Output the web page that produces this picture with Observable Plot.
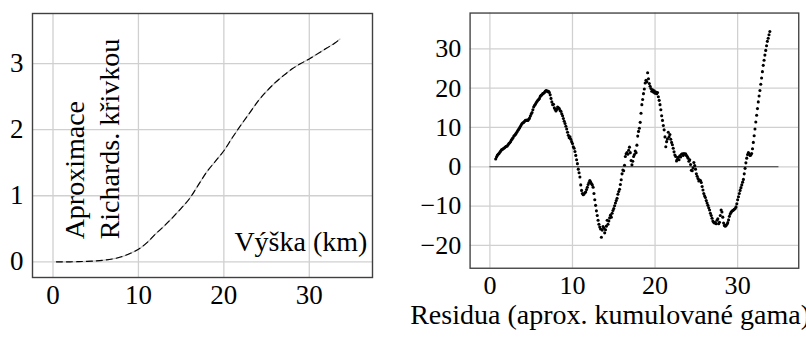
<!DOCTYPE html>
<html><head><meta charset="utf-8">
<script src="https://cdn.jsdelivr.net/npm/d3@7"></script>
<script src="https://cdn.jsdelivr.net/npm/@observablehq/plot@0.6"></script>
<style>
html,body{margin:0;padding:0;background:#fff;overflow:hidden;}
#wrap{position:relative;width:806px;height:341px;overflow:hidden;}
#left{position:absolute;left:0;top:0;}
#right{position:absolute;left:400px;top:0;}
</style></head><body><div id="wrap"><div id="left"></div><div id="right"></div></div>
<script>
// ---- data ----
const xTicks = [0, 10, 20, 30];
const leftYTicks = [0, 1, 2, 3];
const rightYTicks = [-20, -10, 0, 10, 20, 30];

// left panel: cumulative curve vs height (km)
const curveX = [0.4, 2, 3, 4, 5, 6, 7, 8, 9, 10, 11, 12, 13, 14, 15, 16, 17, 18, 19, 20, 21, 22, 23, 24, 25, 26, 27, 28, 29, 30, 31, 32, 33, 33.6];
const curveY = [0.0, 0.0, 0.003, 0.007, 0.014, 0.026, 0.045, 0.076, 0.125, 0.19, 0.29, 0.42, 0.54, 0.67, 0.81, 0.96, 1.16, 1.36, 1.52, 1.68, 1.88, 2.07, 2.25, 2.43, 2.58, 2.71, 2.82, 2.92, 3.0, 3.07, 3.15, 3.23, 3.31, 3.37];

// right panel: residuals, sampled every 0.1 km starting at 0.7 km
const residStart = 0.7;
const residStep = 0.1;
const residY = [
  2.0, 2.5, 2.9,
  3.2, 3.4, 3.7, 4.0, 4.3, 4.4, 4.6, 4.7, 4.9, 5.1,
  5.2, 5.3, 5.6, 5.9, 6.1, 6.4, 6.8, 7.1, 7.4, 7.8,
  8.0, 8.3, 8.6, 8.9, 9.3, 9.6, 9.9, 10.3, 10.7, 11.0,
  11.2, 11.3, 11.6, 11.8, 11.8, 11.9, 11.8, 12.1, 12.4, 12.9,
  13.4, 13.8, 14.5, 15.2, 15.6, 15.9, 16.3, 16.6, 16.9, 17.1,
  17.4, 17.9, 18.2, 18.3, 18.6, 18.7, 18.9, 19.2, 19.4, 19.3,
  19.1, 19.2, 18.9, 18.3, 17.4, 16.5, 15.8, 15.9, 15.0, 14.6,
  14.2, 14.6, 15.2, 15.0, 14.8, 14.3, 14.1, 13.5, 13.0, 12.3,
  11.6, 11.0, 10.3, 9.6, 8.8, 8.0, 7.4, 7.6, 7.0, 6.4,
  5.9, 5.1, 4.7, 3.9, 2.9, 1.8, 0.8, -0.6, -1.5, -2.6,
  -4.6, -6.0, -6.8, -7.1, -6.9, -6.6, -6.4, -5.8, -5.2, -4.5,
  -4.0, -3.5, -3.9, -4.3, -4.6, -5.2, -6.8, -8.4, -9.8, -11.2,
  -12.4, -13.6, -14.6, -15.3, -15.8, -17.9, -16.1, -15.2, -15.6, -16.8,
  -16.0, -15.1, -13.6, -14.6, -13.8, -13.0, -12.3, -12.8, -11.8, -11.1,
  -10.6, -9.9, -9.2, -8.6, -8.0, -7.0, -6.3, -5.7, -4.5, -3.3,
  -1.8, -0.8, -1.0, 0.4, 2.6, 3.3, 3.6, 3.2, 4.2, 5.0,
  3.6, 1.6, 0.5, 1.4, 2.6, 3.1, 4.0, 3.6, 5.5, 7.8,
  9.0, 9.8, 11.3, 13.6, 15.8, 17.1, 18.6, 19.8, 21.3, 22.0,
  21.6, 23.9, 22.4, 21.2, 20.5, 19.9, 19.2, 19.6, 19.0, 19.3,
  18.7, 19.0, 18.6, 18.9, 17.8, 16.9, 15.8, 14.5, 13.0, 11.8,
  10.5, 9.4, 7.6, 5.1, 6.4, 7.1, 8.8, 7.6, 8.2, 7.0,
  6.2, 5.6, 4.7, 3.8, 3.0, 2.6, 1.5, 1.9, 2.4, 1.8,
  2.8, 2.5, 3.2, 3.3, 2.9, 3.4, 3.2, 3.3, 2.9, 2.6,
  2.2, 1.4, 1.8, 0.6, -0.9, -1.0, -0.3, 1.1, 0.3, -0.6,
  -1.8, -2.4, -3.0, -3.6, -3.4, -3.5, -4.0, -5.0, -5.9, -6.8,
  -7.4, -7.8, -8.6, -9.2, -9.8, -10.4, -11.0, -11.8, -12.4, -13.1,
  -13.8, -14.1, -14.3, -14.2, -14.5, -13.6, -13.2, -14.5, -14.1, -12.4,
  -11.0, -11.5, -12.8, -14.3, -14.9, -15.1, -14.9, -14.6, -14.2, -13.5,
  -12.6, -12.0, -11.6, -11.3, -11.1, -11.0, -10.8, -10.6, -10.2, -9.4,
  -8.4, -7.6, -6.8, -6.0, -5.3, -4.6, -3.9, -3.2, -1.8, -0.4,
  1.0, 2.2, 3.1, 3.6, 3.3, 2.9, 3.0, 3.4, 4.6, 6.2,
  7.9, 9.6, 11.4, 13.1, 14.8, 16.5, 18.0, 19.4, 21.0, 22.6,
  24.2, 25.8, 27.1, 28.4, 29.6, 30.8, 31.9, 32.7, 33.6, 34.4
];
const zeroLine = {y: 0, from: 0, to: 35};

const leftLabel1 = "Aproximace";
const leftLabel2 = "Richards. křivkou";
const leftXLabel = "Výška (km)";
const rightXLabel = "Residua (aprox. kumulované gama)";

// ---- build tables ----
const curve = curveX.map((x, i) => ({x, y: curveY[i]}));
const resid = residY.map((y, i) => ({x: +(residStart + i * residStep).toFixed(2), y}));

const FONT = "'Liberation Serif', 'DejaVu Serif', serif";
const TICK = 27, LABEL = 28;
const fmt = d => d < 0 ? "\u2212" + (-d) : String(d);
const gridStyle = {stroke: "#d0d0d0", strokeOpacity: 1, strokeWidth: 1.3};
const frameStyle = {stroke: "#404040", strokeWidth: 1.4};
const axisOpts = {tickSize: 0, label: null, fontSize: TICK, fontFamily: FONT, tickFormat: fmt, fill: "#000"};
const textOpts = {fontSize: LABEL, fontFamily: FONT, fill: "#000", text: d => d};

const left = Plot.plot({
  width: 380, height: 341,
  marginLeft: 32, marginRight: 8, marginTop: 13, marginBottom: 64,
  style: {fontFamily: FONT, fontSize: TICK + "px", color: "#000", background: "transparent", overflow: "visible"},
  x: {domain: [-2.4, 37.4]},
  y: {domain: [-0.237, 3.757]},
  marks: [
    Plot.gridX(xTicks, gridStyle),
    Plot.gridY(leftYTicks, gridStyle),
    Plot.line(curve, {x: "x", y: "y", stroke: "#c4c4c4", strokeWidth: 1.3, curve: "monotone-x"}),
    Plot.line(curve, {x: "x", y: "y", stroke: "#000", strokeWidth: 1.1, strokeDasharray: "6,4", curve: "monotone-x"}),
    Plot.axisX(xTicks, {...axisOpts, tickPadding: 7}),
    Plot.axisY(leftYTicks, {...axisOpts, tickPadding: 9}),
    Plot.frame(frameStyle),
    Plot.text([leftLabel1], {...textOpts, x: 3.6, y: 0.34, rotate: -90, textAnchor: "start", lineAnchor: "bottom"}),
    Plot.text([leftLabel2], {...textOpts, x: 7.7, y: 0.34, rotate: -90, textAnchor: "start", lineAnchor: "bottom"}),
    Plot.text([leftXLabel], {...textOpts, x: 36.8, y: 0.166, textAnchor: "end", lineAnchor: "bottom"})
  ]
});
document.getElementById("left").append(left);

const right = Plot.plot({
  width: 420, height: 341,
  marginLeft: 72, marginRight: 8, marginTop: 13, marginBottom: 64,
  style: {fontFamily: FONT, fontSize: TICK + "px", color: "#000", background: "transparent", overflow: "visible"},
  x: {domain: [-2.4, 37.4]},
  y: {domain: [-25.8, 39.1]},
  marks: [
    Plot.gridX(xTicks, gridStyle),
    Plot.gridY(rightYTicks, gridStyle),
    Plot.ruleY([zeroLine], {y: "y", x1: "from", x2: "to", stroke: "#333", strokeWidth: 1.2}),
    Plot.dot(resid, {x: "x", y: "y", r: 1.6, fill: "#000", stroke: null}),
    Plot.axisX(xTicks, {...axisOpts, tickPadding: 7}),
    Plot.axisY(rightYTicks, {...axisOpts, tickPadding: 9}),
    Plot.frame(frameStyle),
    Plot.text([rightXLabel], {...textOpts, fontSize: 29, frameAnchor: "bottom-left", dx: -62, dy: 58, textAnchor: "start", lineAnchor: "bottom"})
  ]
});
document.getElementById("right").append(right);
</script>
</body></html>
